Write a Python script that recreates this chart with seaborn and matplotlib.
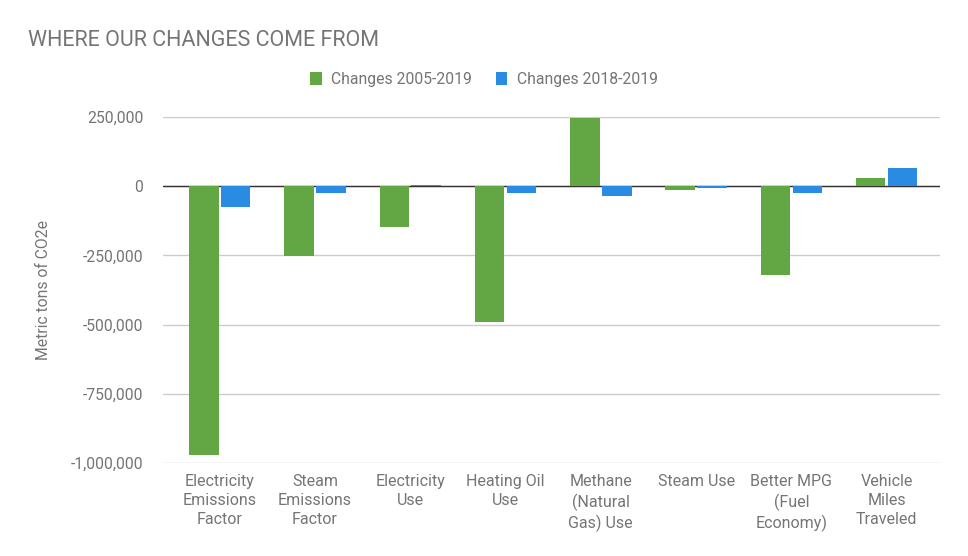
import numpy as np
import pandas as pd
import matplotlib
matplotlib.use("Agg")
import matplotlib.pyplot as plt
import seaborn as sns

# data
categories = ["Electricity\nEmissions\nFactor", "Steam\nEmissions\nFactor", "Electricity\nUse",
              "Heating Oil\nUse", "Methane\n(Natural\nGas) Use", "Steam Use",
              "Better MPG\n(Fuel\nEconomy)", "Vehicle\nMiles\nTraveled"]
changes_2005_2019 = [-971000, -251000, -146000, -491000, 247000, -12000, -322000, 30000]
changes_2018_2019 = [-77000, -26000, 5000, -26000, -34000, -5000, -26000, 66000]
series_names = ["Changes 2005-2019", "Changes 2018-2019"]
yticks = [250000, 0, -250000, -500000, -750000, -1000000]

df = pd.DataFrame({
    "category": categories * 2,
    "value": changes_2005_2019 + changes_2018_2019,
    "series": [series_names[0]] * len(categories) + [series_names[1]] * len(categories),
})

sns.set_style("white")
plt.rcParams["font.family"] = ["Roboto", "DejaVu Sans"]

grey = "#757575"
fig = plt.figure(figsize=(9.68, 5.56), dpi=100)
ax = fig.add_axes([0.168, 0.1673, 0.803, 0.6223])

sns.barplot(data=df, x="category", y="value", hue="series", order=categories,
            palette=["#62a744", "#2a8be3"], width=0.67, saturation=1, ax=ax, legend=True,
            zorder=2, linewidth=0, edgecolor="none")

# little gap between the two bars of a group
for p in ax.patches:
    if p.get_width() > 0.2:
        c = p.get_x() + p.get_width() / 2
        p.set_width(0.31)
        p.set_x(c - 0.155)

ax.set_ylim(-1000000, 250000)
ax.set_xlim(-0.6, 7.56)
ax.set_yticks(yticks)
ax.set_yticklabels([f"{v:,}" for v in yticks])
ax.tick_params(axis="y", colors=grey, labelsize=11.3, length=0, pad=14)
ax.tick_params(axis="x", colors=grey, labelsize=11.5, length=0, pad=8)
for t in ax.get_xticklabels():
    t.set_linespacing(1.32)
ax.grid(axis="y", color="#cccccc", linewidth=1)
ax.set_axisbelow(True)
ax.axhline(0, color="#333333", linewidth=1, zorder=1.5)
sns.despine(ax=ax, left=True, bottom=True)

ax.set_xlabel("")
ax.set_ylabel("Metric tons of CO2e", color=grey, fontsize=11.3, labelpad=14)

leg = ax.legend(loc="center", bbox_to_anchor=(0.5, 0.857), bbox_transform=fig.transFigure,
                ncol=2, frameon=False, fontsize=11.3, handlelength=0.75, handleheight=0.9,
                handletextpad=0.6, columnspacing=1.5)
for t in leg.get_texts():
    t.set_color(grey)

fig.text(0.029, 0.927, "WHERE OUR CHANGES COME FROM", color=grey, fontsize=15.5, va="center")

fig.savefig("out.png", dpi=100)
